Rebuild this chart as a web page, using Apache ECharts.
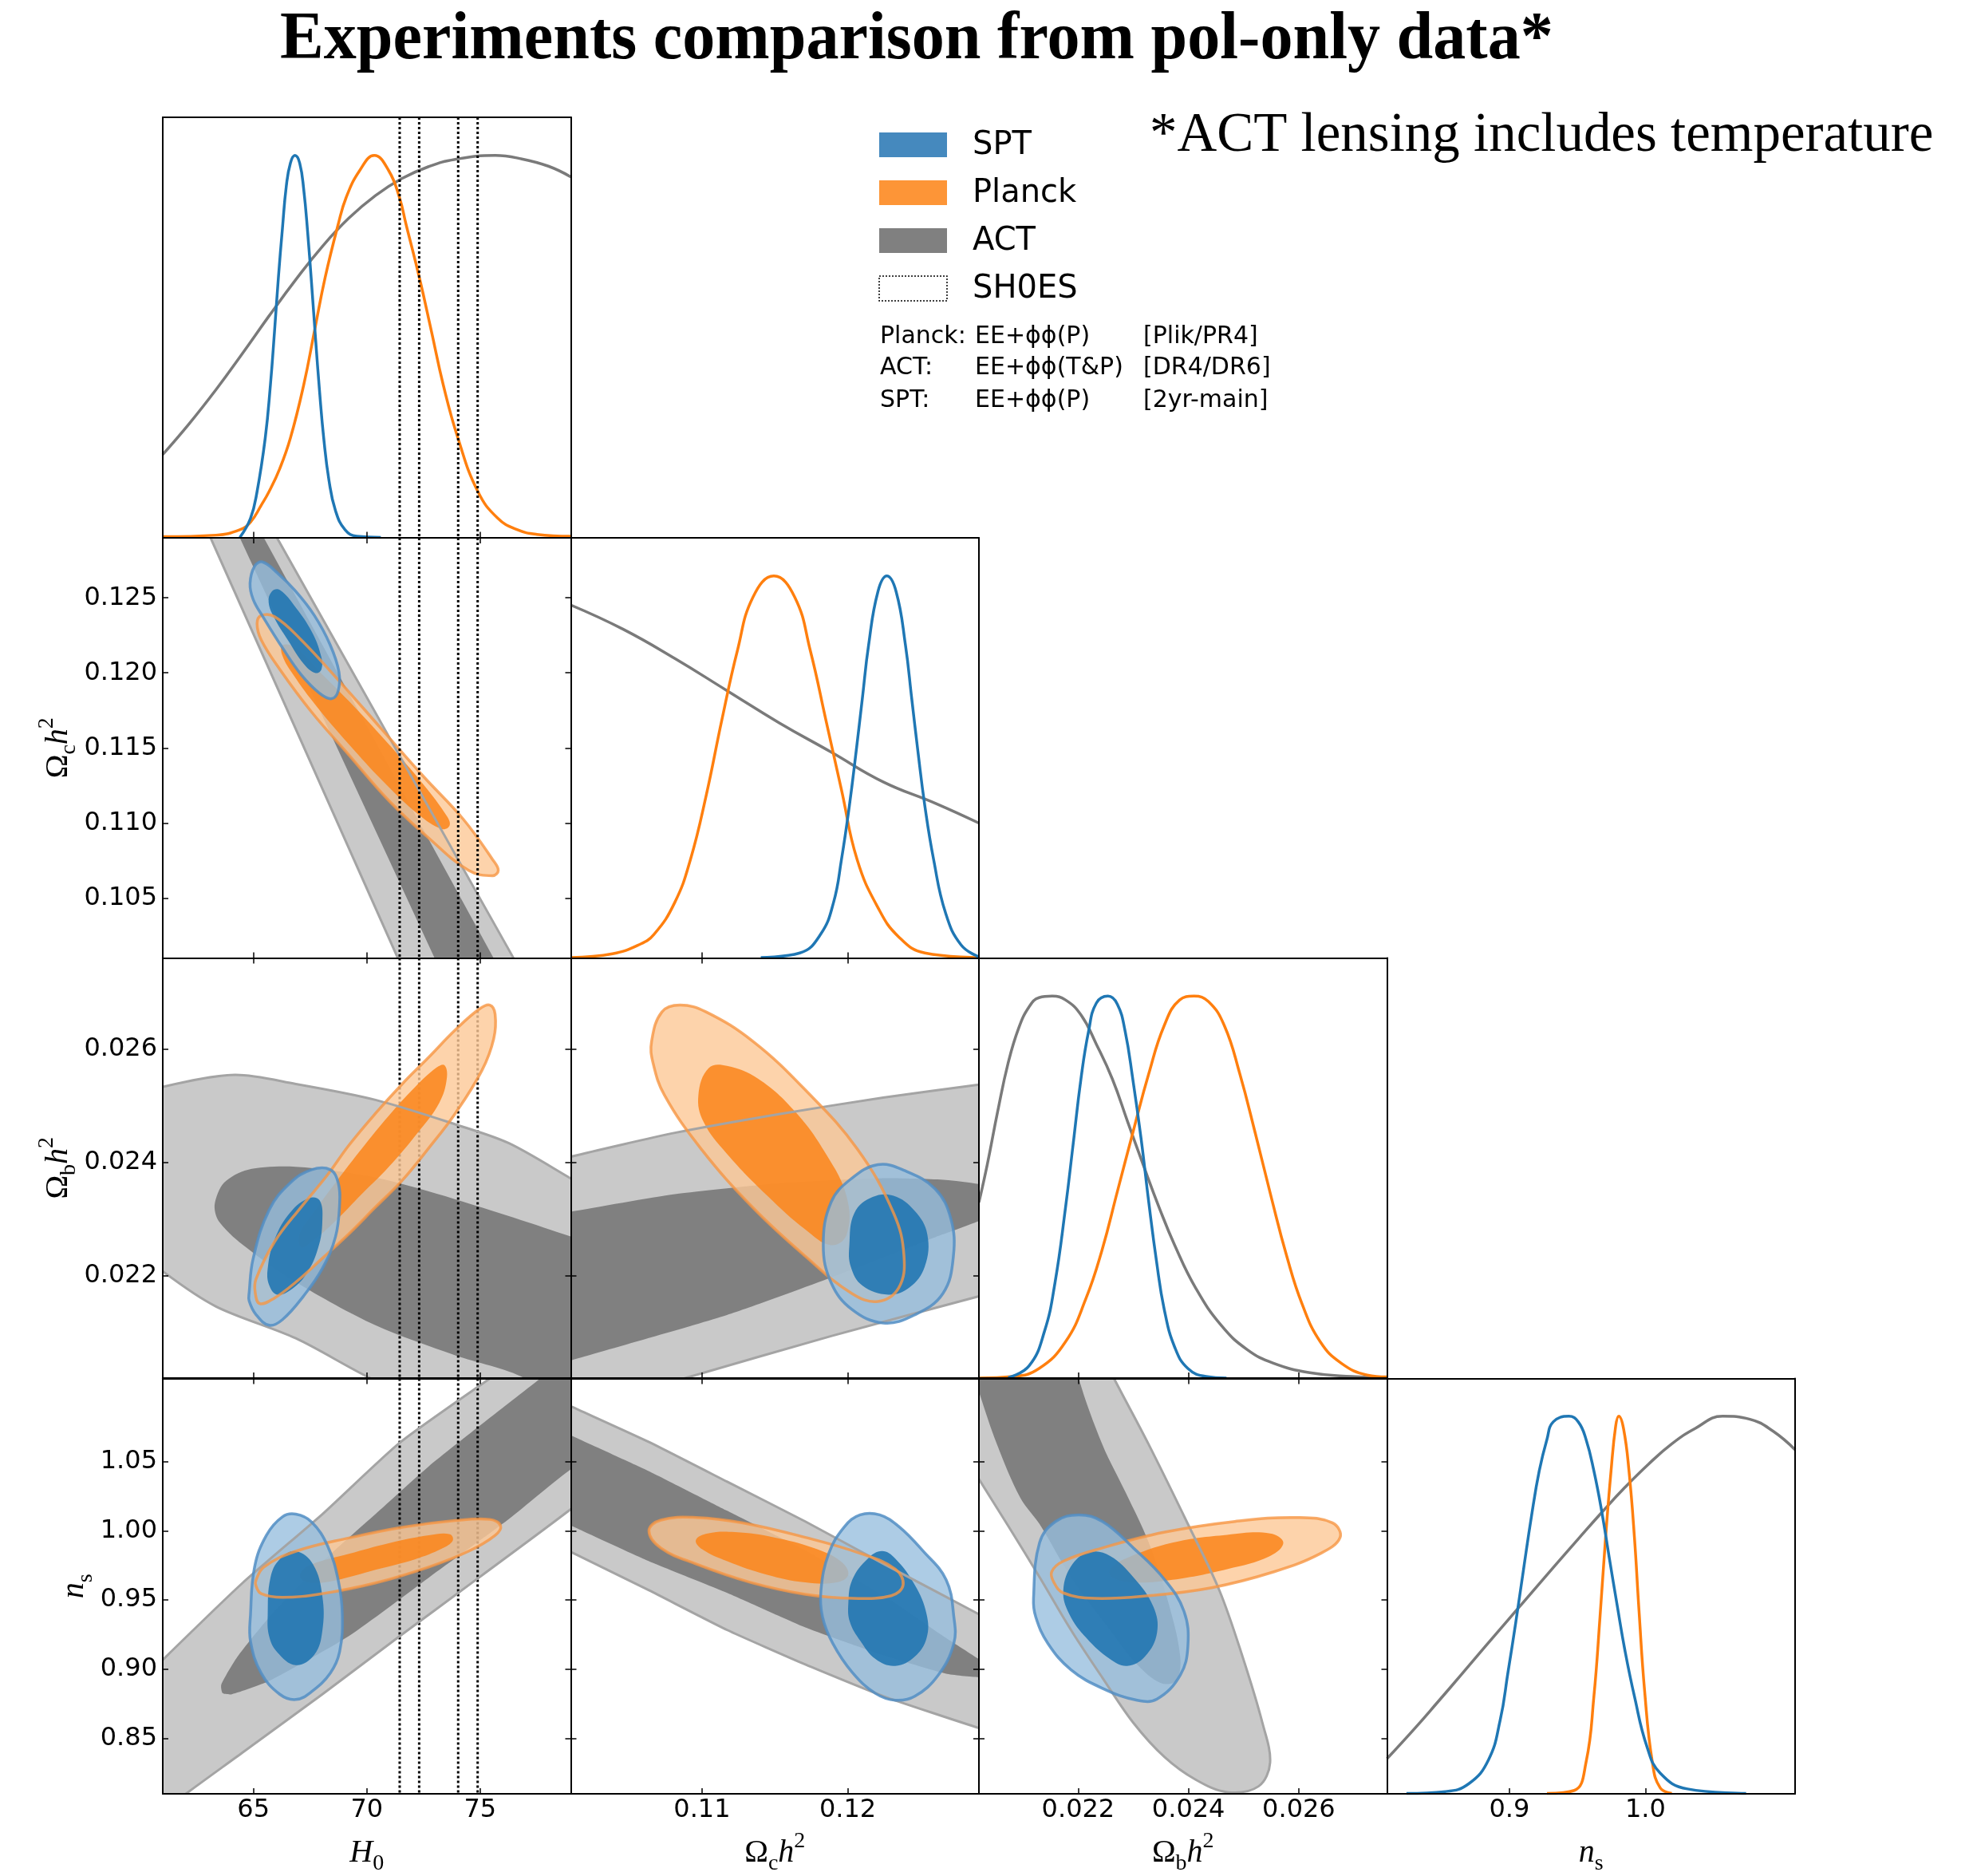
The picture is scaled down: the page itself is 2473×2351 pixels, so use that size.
<!DOCTYPE html>
<html><head><meta charset="utf-8">
<script src="https://cdn.jsdelivr.net/npm/echarts@6/dist/echarts.min.js"></script>
<style>html,body{margin:0;padding:0;background:#fff}#c{width:2473px;height:2351px}</style>
</head><body><div id="c"></div>
<script>
// ---------------- axis ranges & ticks ----------------
const H0_RANGE = [61, 79];
const OMC_RANGE = [0.101, 0.129];
const OMB_RANGE = [0.0202, 0.0276];
const NS_RANGE = [0.81, 1.11];
const DENS_RANGE = [0, 1.1];
const H0_TICKS = [65, 70, 75];
const OMC_XTICKS = [0.11, 0.12];
const OMC_YTICKS = [0.105, 0.110, 0.115, 0.120, 0.125];
const OMB_TICKS = [0.022, 0.024, 0.026];
const NS_XTICKS = [0.9, 1.0];
const NS_YTICKS = [0.85, 0.90, 0.95, 1.00, 1.05];
const SHOES_H0 = [71.45, 72.31, 74.03, 74.89];

// ---------------- 1D marginals [x, normalized density] ----------------
const H0_spt = [[64.40,0],[64.87,0.05],[65.16,0.12],[65.52,0.26],[65.75,0.40],[65.93,0.54],[66.10,0.68],[66.28,0.81],[66.45,0.92],[66.63,0.98],[66.83,1.0],[67.04,0.98],[67.22,0.91],[67.39,0.80],[67.57,0.66],[67.74,0.52],[67.92,0.38],[68.10,0.26],[68.33,0.15],[68.62,0.07],[69.04,0.02],[69.56,0.003],[70.62,0]];
const H0_planck = [[61.0,0.002],[63.35,0.006],[64.40,0.02],[64.87,0.04],[65.34,0.084],[65.69,0.12],[66.16,0.18],[66.63,0.26],[67.22,0.40],[67.69,0.54],[68.16,0.68],[68.74,0.82],[69.09,0.89],[69.68,0.96],[70.33,1.0],[70.97,0.96],[71.44,0.89],[71.73,0.82],[72.32,0.68],[72.85,0.54],[73.37,0.40],[74.02,0.26],[74.90,0.12],[75.78,0.05],[76.60,0.021],[77.50,0.008],[79.0,0.003]];
const H0_act = [[61.0,0.217],[62.17,0.298],[63.35,0.387],[64.52,0.482],[65.69,0.580],[66.87,0.675],[68.04,0.762],[69.21,0.836],[70.38,0.895],[71.56,0.940],[72.73,0.971],[73.90,0.990],[75.66,1.0],[76.84,0.991],[78.01,0.972],[79.0,0.944]];

const omc_planck = [[0.1010,0.001],[0.10386,0.011],[0.10564,0.034],[0.10671,0.062],[0.10814,0.146],[0.10921,0.258],[0.11029,0.426],[0.11136,0.623],[0.11243,0.805],[0.11350,0.945],[0.11493,1.0],[0.11636,0.945],[0.11743,0.805],[0.11850,0.623],[0.11957,0.440],[0.12064,0.258],[0.12207,0.132],[0.12350,0.055],[0.12529,0.013],[0.1290,0.001]];
const omc_spt = [[0.11403,0.001],[0.11671,0.013],[0.11814,0.062],[0.11903,0.146],[0.11957,0.258],[0.12011,0.398],[0.12057,0.539],[0.12100,0.679],[0.12143,0.819],[0.12207,0.959],[0.12268,1.0],[0.12332,0.959],[0.12396,0.819],[0.12439,0.679],[0.12482,0.539],[0.12529,0.398],[0.12589,0.258],[0.12671,0.118],[0.12778,0.034],[0.1290,0.003]];
const omc_act = [[0.1010,0.924],[0.10457,0.861],[0.10814,0.784],[0.11171,0.700],[0.11528,0.616],[0.11886,0.539],[0.12243,0.461],[0.12600,0.405],[0.1290,0.353]];

const omb_act = [[0.0202,0.460],[0.02035,0.558],[0.02054,0.698],[0.02073,0.825],[0.02092,0.916],[0.02111,0.972],[0.02129,0.996],[0.02153,1.0],[0.02177,0.990],[0.02205,0.951],[0.02233,0.874],[0.02262,0.783],[0.02290,0.670],[0.02318,0.558],[0.02347,0.446],[0.02375,0.348],[0.02413,0.236],[0.02460,0.137],[0.02507,0.074],[0.02554,0.039],[0.02620,0.014],[0.02696,0.004],[0.0276,0.001]];
const omb_spt = [[0.02073,0.001],[0.02111,0.032],[0.02139,0.123],[0.02158,0.250],[0.02177,0.446],[0.02191,0.614],[0.02205,0.783],[0.02219,0.909],[0.02233,0.982],[0.02254,1.0],[0.02271,0.979],[0.02285,0.909],[0.02299,0.783],[0.02314,0.628],[0.02328,0.460],[0.02342,0.306],[0.02356,0.180],[0.02375,0.081],[0.02399,0.025],[0.02432,0.004],[0.02469,0]];
const omb_planck = [[0.0202,0],[0.02082,0.004],[0.02129,0.025],[0.02177,0.095],[0.02214,0.208],[0.02243,0.334],[0.02271,0.488],[0.02299,0.642],[0.02328,0.797],[0.02356,0.923],[0.02384,0.990],[0.02410,1.0],[0.02436,0.986],[0.02465,0.923],[0.02493,0.797],[0.02521,0.642],[0.02550,0.474],[0.02578,0.320],[0.02606,0.194],[0.02639,0.095],[0.02677,0.039],[0.02724,0.008],[0.0276,0.003]];

const ns_act = [[0.81,0.093],[0.8301,0.172],[0.8473,0.243],[0.8645,0.315],[0.8817,0.388],[0.8989,0.460],[0.9104,0.508],[0.9334,0.604],[0.9506,0.675],[0.9678,0.745],[0.9850,0.812],[1.0022,0.873],[1.0194,0.927],[1.0367,0.968],[1.0567,1.0],[1.0768,0.992],[1.0940,0.960],[1.1101,0.911]];
const ns_spt = [[0.8243,0.001],[0.8530,0.006],[0.8702,0.027],[0.8846,0.090],[0.8932,0.195],[0.8989,0.321],[0.9047,0.455],[0.9104,0.595],[0.9162,0.735],[0.9219,0.855],[0.9276,0.939],[0.9322,0.985],[0.9437,1.0],[0.9506,0.985],[0.9563,0.939],[0.9621,0.855],[0.9678,0.749],[0.9735,0.623],[0.9793,0.497],[0.9850,0.378],[0.9919,0.258],[1.0011,0.125],[1.0108,0.055],[1.0309,0.013],[1.0740,0.001]];
const ns_planck = [[0.9276,0.001],[0.9477,0.009],[0.9563,0.083],[0.9621,0.258],[0.9666,0.469],[0.9707,0.679],[0.9747,0.855],[0.9781,0.974],[0.9804,1.0],[0.9839,0.967],[0.9879,0.855],[0.9919,0.679],[0.9953,0.483],[0.9994,0.272],[1.0051,0.083],[1.0108,0.016],[1.0194,0.001]];

// ---------------- 2D contours (68% / 95%) [x, y] ----------------
const omc_H0_act95 = [[61.94,0.13275],[63.11,0.1290],[71.36,0.10102],[72.26,0.09737],[77.66,0.09737],[76.46,0.10102],[66.04,0.1290],[64.87,0.13275]];
const omc_H0_act68 = [[63.58,0.13204],[64.40,0.1290],[72.98,0.10102],[73.79,0.09826],[76.60,0.09826],[75.58,0.10102],[65.46,0.1290],[64.52,0.13161]];
const omc_H0_planck95 = [[65.16,0.12328],[65.34,0.12382],[65.93,0.12375],[67.10,0.12221],[68.74,0.11953],[70.62,0.11631],[72.50,0.11310],[74.26,0.11024],[75.55,0.10756],[75.80,0.10684],[75.55,0.10648],[74.49,0.10684],[72.73,0.10899],[70.97,0.11149],[69.21,0.11453],[67.57,0.11738],[66.16,0.12024],[65.34,0.12221]];
const omc_H0_planck68 = [[66.28,0.12185],[66.87,0.12167],[68.04,0.11989],[69.45,0.11774],[70.97,0.11524],[72.50,0.11256],[73.55,0.11041],[73.65,0.10981],[73.32,0.10959],[72.26,0.11059],[70.74,0.11274],[69.21,0.11524],[67.80,0.11774],[66.75,0.11989],[66.28,0.12114]];
const omc_H0_spt95 = [[64.85,0.12596],[65.05,0.12711],[65.40,0.12739],[66.04,0.12668],[66.87,0.12543],[67.69,0.12382],[68.39,0.12185],[68.77,0.12007],[68.74,0.11881],[68.45,0.11828],[67.92,0.11864],[67.10,0.11989],[66.28,0.12167],[65.46,0.12364],[64.99,0.12489]];
const omc_H0_spt68 = [[65.67,0.12471],[65.81,0.12543],[66.16,0.12553],[66.87,0.12435],[67.57,0.12275],[67.98,0.12114],[68.00,0.12024],[67.74,0.11999],[67.22,0.12060],[66.51,0.12221],[65.93,0.12364]];

const omb_H0_act95 = [[58.07,0.02364],[58.65,0.02477],[59.83,0.02515],[61.0,0.02533],[64.17,0.02554],[66.87,0.02538],[70.38,0.02510],[73.90,0.02467],[76.25,0.02434],[79.02,0.02371],[80.94,0.02326],[82.11,0.02231],[82.11,0.01910],[76.25,0.01910],[70.15,0.02020],[66.87,0.02090],[63.35,0.02146],[61.0,0.02208],[59.24,0.02269]];
const omb_H0_act68 = [[63.29,0.02326],[63.70,0.02364],[64.75,0.02387],[66.87,0.02392],[70.38,0.02373],[73.90,0.02335],[79.02,0.02269],[82.11,0.02222],[82.11,0.01910],[77.42,0.01986],[76.95,0.02020],[73.90,0.02060],[70.38,0.02113],[66.87,0.02189],[64.52,0.02255],[63.46,0.02297]];
const omb_H0_planck95 = [[65.11,0.02194],[65.93,0.02260],[67.10,0.02321],[68.27,0.02378],[69.21,0.02430],[70.38,0.02486],[71.56,0.02538],[72.73,0.02585],[73.90,0.02633],[74.96,0.02670],[75.43,0.02677],[75.66,0.02661],[75.60,0.02618],[75.08,0.02562],[73.90,0.02486],[72.73,0.02425],[71.56,0.02368],[70.38,0.02321],[69.21,0.02274],[68.04,0.02231],[66.87,0.02189],[65.93,0.02161],[65.28,0.02151],[65.08,0.02170]];
const omb_H0_planck68 = [[67.04,0.02274],[67.57,0.02307],[68.62,0.02364],[69.80,0.02425],[70.97,0.02482],[72.14,0.02533],[73.08,0.02567],[73.43,0.02571],[73.53,0.02548],[73.20,0.02505],[72.26,0.02453],[70.97,0.02392],[69.80,0.02345],[68.62,0.02297],[67.57,0.02260],[67.10,0.02250]];
const omb_H0_spt95 = [[64.81,0.02170],[64.99,0.02231],[65.69,0.02316],[66.63,0.02364],[67.57,0.02387],[68.39,0.02387],[68.74,0.02364],[68.80,0.02326],[68.62,0.02269],[68.04,0.02213],[67.22,0.02165],[66.28,0.02123],[65.69,0.02113],[65.11,0.02132],[64.81,0.02156]];
const omb_H0_spt68 = [[65.63,0.02213],[65.93,0.02264],[66.63,0.02312],[67.45,0.02337],[67.92,0.02333],[68.04,0.02297],[67.86,0.02250],[67.33,0.02203],[66.63,0.02175],[66.04,0.02167],[65.69,0.02184]];

const ns_H0_act95 = [[58.65,0.8685],[61.0,0.9068],[64.52,0.9623],[68.04,1.0120],[71.46,1.0637],[75.43,1.11],[78.60,1.1460],[82.11,1.1804],[82.11,1.0580],[79.02,1.0159],[74.94,0.9661],[71.46,0.9240],[68.04,0.8819],[64.52,0.8398],[61.0,0.7977],[58.65,0.7671]];
const ns_H0_act68 = [[63.58,0.8888],[64.28,0.9087],[65.69,0.9374],[68.04,0.9776],[70.38,1.0120],[72.73,1.0465],[75.08,1.0771],[77.66,1.11],[80.94,1.1498],[82.11,1.1575],[82.11,1.0733],[79.02,1.0446],[76.25,1.0082],[72.73,0.9661],[69.21,0.9240],[65.69,0.8915],[64.05,0.8819],[63.64,0.8827]];
const ns_H0_planck95 = [[65.11,0.9642],[65.46,0.9738],[66.87,0.9852],[69.21,0.9948],[71.56,1.0025],[73.90,1.0074],[75.43,1.0082],[75.90,1.0036],[75.66,0.9967],[74.49,0.9852],[72.73,0.9738],[70.38,0.9623],[68.04,0.9546],[66.28,0.9519],[65.34,0.9546],[65.11,0.9603]];
const ns_H0_planck68 = [[67.10,0.9699],[67.57,0.9757],[69.21,0.9833],[70.97,0.9910],[72.73,0.9967],[73.67,0.9975],[73.79,0.9929],[73.32,0.9872],[72.14,0.9795],[70.38,0.9718],[68.62,0.9642],[67.57,0.9623],[67.10,0.9653]];
const ns_H0_spt95 = [[64.87,0.9393],[65.05,0.9738],[65.57,0.9967],[66.28,1.0101],[66.87,1.0120],[67.57,1.0063],[68.27,0.9891],[68.74,0.9642],[68.92,0.9393],[68.80,0.9125],[68.39,0.8972],[67.57,0.8838],[66.87,0.8781],[66.16,0.8819],[65.34,0.8972],[64.87,0.9202]];
const ns_H0_spt68 = [[65.63,0.9393],[65.75,0.9661],[66.16,0.9795],[66.87,0.9852],[67.63,0.9757],[68.04,0.9527],[68.04,0.9278],[67.69,0.9106],[66.87,0.9030],[66.04,0.9125],[65.69,0.9240]];

const omb_omc_act95 = [[0.09029,0.02339],[0.1010,0.02410],[0.10814,0.02452],[0.11528,0.02485],[0.12243,0.02514],[0.1290,0.02537],[0.13671,0.02561],[0.13671,0.02216],[0.1290,0.02164],[0.11886,0.02094],[0.10886,0.02020],[0.09029,0.01876]];
const omb_omc_act68 = [[0.09029,0.02264],[0.1010,0.02313],[0.10814,0.02344],[0.11528,0.02363],[0.12243,0.02372],[0.12671,0.02369],[0.12957,0.02358],[0.13064,0.02330],[0.12957,0.02303],[0.12600,0.02268],[0.11886,0.02197],[0.11171,0.02131],[0.1010,0.02051],[0.09029,0.01971]];
const omb_omc_planck95 = [[0.10654,0.02613],[0.10725,0.02665],[0.10850,0.02677],[0.11028,0.02665],[0.11350,0.02613],[0.11707,0.02528],[0.12064,0.02424],[0.12314,0.02311],[0.12386,0.02235],[0.12350,0.02179],[0.12207,0.02155],[0.12028,0.02169],[0.11707,0.02235],[0.11350,0.02320],[0.10993,0.02424],[0.10743,0.02518],[0.10664,0.02575]];
const omb_omc_planck68 = [[0.10975,0.02518],[0.11046,0.02566],[0.11171,0.02570],[0.11386,0.02547],[0.11636,0.02490],[0.11850,0.02415],[0.11993,0.02339],[0.11993,0.02273],[0.11886,0.02254],[0.11707,0.02282],[0.11457,0.02339],[0.11171,0.02415],[0.11011,0.02471]];
const omb_omc_spt95 = [[0.11832,0.02254],[0.11886,0.02330],[0.12028,0.02372],[0.12207,0.02396],[0.12386,0.02386],[0.12600,0.02353],[0.12707,0.02301],[0.12725,0.02235],[0.12653,0.02169],[0.12457,0.02131],[0.12243,0.02117],[0.12028,0.02141],[0.11886,0.02188]];
const omb_omc_spt68 = [[0.12011,0.02254],[0.12046,0.02311],[0.12171,0.02339],[0.12314,0.02341],[0.12457,0.02315],[0.12546,0.02273],[0.12528,0.02216],[0.12421,0.02179],[0.12278,0.02167],[0.12100,0.02183],[0.12021,0.02216]];

const ns_omc_act95 = [[0.09295,1.1291],[0.1010,1.0899],[0.10636,1.0641],[0.11173,1.0354],[0.11709,1.0067],[0.12246,0.9761],[0.1290,0.9397],[0.13587,0.9015],[0.13587,0.8364],[0.1290,0.8575],[0.12246,0.8804],[0.11709,0.9034],[0.11173,0.9283],[0.10636,0.9570],[0.1010,0.9847],[0.09295,1.0258]];
const ns_omc_act68 = [[0.09295,1.1081],[0.1010,1.0689],[0.10636,1.0430],[0.11173,1.0144],[0.11709,0.9857],[0.12246,0.9531],[0.12675,0.9225],[0.12900,0.9072],[0.13023,0.8977],[0.12900,0.8942],[0.12675,0.8967],[0.12246,0.9101],[0.11709,0.9302],[0.11173,0.9551],[0.10636,0.9780],[0.1010,1.0038],[0.09295,1.0430]];
const ns_omc_planck95 = [[0.10636,1.0000],[0.10717,1.0077],[0.10958,1.0096],[0.11280,1.0057],[0.11709,0.9952],[0.12085,0.9837],[0.12326,0.9723],[0.12380,0.9608],[0.12299,0.9531],[0.12031,0.9512],[0.11709,0.9541],[0.11334,0.9627],[0.10958,0.9761],[0.10717,0.9876]];
const ns_omc_planck68 = [[0.10958,0.9933],[0.11039,0.9981],[0.11226,0.9990],[0.11495,0.9952],[0.11763,0.9876],[0.11951,0.9780],[0.12004,0.9684],[0.11924,0.9627],[0.11709,0.9627],[0.11441,0.9684],[0.11173,0.9780],[0.11001,0.9866]];
const ns_omc_spt95 = [[0.11816,0.9570],[0.11870,0.9837],[0.11977,1.0029],[0.12085,1.0115],[0.12219,1.0115],[0.12353,1.0029],[0.12514,0.9857],[0.12675,0.9646],[0.12728,0.9378],[0.12728,0.9187],[0.12621,0.8957],[0.12460,0.8804],[0.12326,0.8776],[0.12192,0.8824],[0.12031,0.8977],[0.11897,0.9187],[0.11827,0.9378]];
const ns_omc_spt68 = [[0.12004,0.9474],[0.12031,0.9646],[0.12138,0.9799],[0.12235,0.9853],[0.12326,0.9799],[0.12460,0.9608],[0.12541,0.9397],[0.12541,0.9225],[0.12460,0.9091],[0.12326,0.9024],[0.12192,0.9072],[0.12085,0.9206],[0.12015,0.9340]];

const ns_omb_act95 = [[0.01876,1.1387],[0.02229,1.1387],[0.02265,1.11],[0.02328,1.0622],[0.02399,1.0048],[0.02456,0.9570],[0.02498,0.9091],[0.02534,0.8613],[0.02548,0.8326],[0.02527,0.8154],[0.02470,0.8112],[0.02413,0.8202],[0.02357,0.8364],[0.02300,0.8613],[0.02244,0.8938],[0.02187,0.9283],[0.02130,0.9665],[0.02074,1.0029],[0.0202,1.0373],[0.01961,1.0756]];
const ns_omb_act68 = [[0.01989,1.1387],[0.02187,1.1387],[0.02201,1.11],[0.02244,1.0622],[0.02286,1.0277],[0.02328,0.9914],[0.02364,0.9474],[0.02385,0.9091],[0.02378,0.8919],[0.02350,0.8900],[0.02307,0.9034],[0.02258,0.9283],[0.02187,0.9665],[0.02130,1.0048],[0.02095,1.0239],[0.02053,1.0622],[0.0202,1.1004]];
const ns_omb_planck95 = [[0.02152,0.9704],[0.02173,0.9780],[0.02244,0.9876],[0.02357,0.9990],[0.02484,1.0067],[0.02597,1.0096],[0.02661,1.0057],[0.02675,0.9952],[0.02640,0.9837],[0.02555,0.9704],[0.02442,0.9589],[0.02328,0.9531],[0.02229,0.9512],[0.02173,0.9551],[0.02156,0.9627]];
const ns_omb_planck68 = [[0.02258,0.9723],[0.02286,0.9799],[0.02371,0.9914],[0.02470,0.9971],[0.02548,0.9981],[0.02572,0.9914],[0.02548,0.9818],[0.02470,0.9723],[0.02371,0.9646],[0.02300,0.9627],[0.02261,0.9665]];
const ns_omb_spt95 = [[0.02119,0.9512],[0.02130,0.9914],[0.02159,1.0067],[0.02201,1.0115],[0.02244,1.0067],[0.02300,0.9876],[0.02357,0.9646],[0.02392,0.9417],[0.02399,0.9168],[0.02385,0.8957],[0.02343,0.8785],[0.02307,0.8776],[0.02244,0.8862],[0.02187,0.8996],[0.02145,0.9187],[0.02123,0.9378]];
const ns_omb_spt68 = [[0.02173,0.9570],[0.02190,0.9761],[0.02222,0.9847],[0.02258,0.9818],[0.02300,0.9665],[0.02336,0.9455],[0.02343,0.9264],[0.02321,0.9091],[0.02289,0.9024],[0.02258,0.9072],[0.02215,0.9225],[0.02184,0.9397]];

// ---------------- text ----------------
const TITLE = 'Experiments comparison from pol-only data*';
const NOTE = '*ACT lensing includes temperature';
const LEGEND_LABELS = ['SPT', 'Planck', 'ACT', 'SH0ES'];
const DATA_ROWS = [['Planck:', 'EE+ϕϕ(P)', '[Plik/PR4]'], ['ACT:', 'EE+ϕϕ(T&P)', '[DR4/DR6]'], ['SPT:', 'EE+ϕϕ(P)', '[2yr-main]']];

// ---------------- styling / layout ----------------
const COL_LEFT = [204, 715.5, 1227, 1738.5];
const ROW_TOP = [147, 674, 1200.5, 1727.5];
const PW = 511.5, PH = 526.5;
const LINE_COL = {spt: '#1f77b4', planck: '#ff7f0e', act: '#7a7a7a'};
const FILL = {
  act95: '#c9c9c9', act68: '#808080',
  planck95: 'rgba(253,200,150,0.80)', planck68: 'rgba(250,134,30,0.88)',
  spt95: 'rgba(150,190,222,0.78)', spt68: 'rgba(31,116,176,0.88)'
};
const EDGE = {act: '#a4a4a4', planck: 'rgba(246,150,68,0.8)', spt: 'rgba(82,142,196,0.85)'};

const RICH = {
  i: {fontFamily: 'Liberation Serif', fontStyle: 'italic', fontSize: 40, color: '#000', lineHeight: 56},
  r: {fontFamily: 'Liberation Serif', fontSize: 40, color: '#000', lineHeight: 56},
  s: {fontFamily: 'Liberation Serif', fontSize: 28, color: '#000', lineHeight: 34, verticalAlign: 'bottom'},
  p: {fontFamily: 'Liberation Serif', fontSize: 28, color: '#000', lineHeight: 34, verticalAlign: 'top'}
};

const PARAM = {
  H0: {range: H0_RANGE, xt: H0_TICKS, yt: H0_TICKS, xd: 0, yd: 0, name: '{i|H}{s|0}', yGap: 103},
  omc: {range: OMC_RANGE, xt: OMC_XTICKS, yt: OMC_YTICKS, xd: 2, yd: 3, name: '{r|Ω}{s|c}{i|h}{p|2}', yGap: 103},
  omb: {range: OMB_RANGE, xt: OMB_TICKS, yt: OMB_TICKS, xd: 3, yd: 3, name: '{r|Ω}{s|b}{i|h}{p|2}', yGap: 103},
  ns: {range: NS_RANGE, xt: NS_XTICKS, yt: NS_YTICKS, xd: 1, yd: 2, name: '{i|n}{s|s}', yGap: 81}
};
const ORDER = ['H0', 'omc', 'omb', 'ns'];

const grids = [], xAxes = [], yAxes = [], series = [];

function axisDef(gi, pos, range, ticks, dec, showLabel, name, showTicks, gap) {
  const vertical = pos === 'left' || pos === 'right';
  const a = {
    gridIndex: gi, type: 'value', position: pos, min: range[0], max: range[1], z: 10, silent: true,
    axisLine: {show: true, onZero: false, lineStyle: {color: '#000', width: 2}},
    axisTick: {show: showTicks, inside: true, length: 7, lineStyle: {color: '#000', width: 1.5}, customValues: ticks},
    axisLabel: {show: showLabel, customValues: ticks, formatter: v => Number(v).toFixed(dec), color: '#000',
      fontSize: 32, fontFamily: 'DejaVu Sans', margin: vertical ? 7 : 5},
    splitLine: {show: false}
  };
  if (name) {
    a.name = name; a.nameLocation = 'middle';
    a.nameGap = vertical ? gap : 46;
    if (vertical) a.nameRotate = 90;
    a.nameTextStyle = {rich: RICH};
  }
  return a;
}

function addPanel(r, c) {
  const gi = grids.length;
  grids.push({left: COL_LEFT[c], top: ROW_TOP[r], width: PW, height: PH, show: false});
  const px = PARAM[ORDER[c]];
  const is1D = r === c;
  const bottomRow = r === 3, leftCol = c === 0 && r > 0;
  const xi = xAxes.length, yi = yAxes.length;
  xAxes.push(axisDef(gi, 'bottom', px.range, px.xt, px.xd, bottomRow, bottomRow ? px.name : '', true));
  xAxes.push(axisDef(gi, 'top', px.range, px.xt, px.xd, false, '', !is1D));
  if (is1D) {
    yAxes.push(axisDef(gi, 'left', DENS_RANGE, [], 0, false, '', false));
    yAxes.push(axisDef(gi, 'right', DENS_RANGE, [], 0, false, '', false));
  } else {
    const py = PARAM[ORDER[r]];
    yAxes.push(axisDef(gi, 'left', py.range, py.yt, py.yd, leftCol, leftCol ? py.name : '', true, py.yGap));
    yAxes.push(axisDef(gi, 'right', py.range, py.yt, py.yd, false, '', true));
  }
  return {xi, yi};
}

function polySeries(ax, pts, fill, stroke, lw, z, smooth) {
  return {
    type: 'custom', coordinateSystem: 'cartesian2d', xAxisIndex: ax.xi, yAxisIndex: ax.yi,
    clip: true, silent: true, z: z, data: [pts[0]],
    renderItem: function (params, api) {
      return {type: 'polygon', shape: {points: pts.map(p => api.coord(p)), smooth: smooth},
        style: {fill: fill || 'none', stroke: stroke || 'none', lineWidth: lw || 0}};
    }
  };
}

function shoesSeries(ax, ymid, z) {
  return {
    type: 'custom', coordinateSystem: 'cartesian2d', xAxisIndex: ax.xi, yAxisIndex: ax.yi,
    clip: true, silent: true, z: z, data: SHOES_H0.map(v => [v, ymid]),
    renderItem: function (params, api) {
      const cs = params.coordSys;
      const x = api.coord([api.value(0), api.value(1)])[0];
      return {type: 'line', shape: {x1: x, y1: cs.y, x2: x, y2: cs.y + cs.height},
        style: {stroke: '#000', lineWidth: 3, lineDash: [3, 3]}};
    }
  };
}

function lineSeries(ax, data, color) {
  return {type: 'line', xAxisIndex: ax.xi, yAxisIndex: ax.yi, data: data, showSymbol: false,
    smooth: 0.45, silent: true, z: 3, clip: true,
    lineStyle: {color: color, width: 3.5}};
}

function add1D(r, sets, shoes) {
  const ax = addPanel(r, r);
  if (shoes) series.push(shoesSeries(ax, 0.5, 4));
  series.push(lineSeries(ax, sets.act, LINE_COL.act));
  series.push(lineSeries(ax, sets.planck, LINE_COL.planck));
  series.push(lineSeries(ax, sets.spt, LINE_COL.spt));
}

function add2D(r, c, s, shoesMode, actSmooth, ymid) {
  const ax = addPanel(r, c);
  series.push(polySeries(ax, s.act95, FILL.act95, null, 0, 2, actSmooth));
  series.push(polySeries(ax, s.act68, FILL.act68, null, 0, 2, actSmooth));
  if (shoesMode === 'under') series.push(shoesSeries(ax, ymid, 2));
  series.push(polySeries(ax, s.planck95, FILL.planck95, null, 0, 2, 0.4));
  series.push(polySeries(ax, s.planck68, FILL.planck68, null, 0, 2, 0.4));
  series.push(polySeries(ax, s.spt95, FILL.spt95, null, 0, 2, 0.4));
  series.push(polySeries(ax, s.spt68, FILL.spt68, null, 0, 2, 0.4));
  series.push(polySeries(ax, s.act95, null, EDGE.act, 3, 3, actSmooth));
  series.push(polySeries(ax, s.planck95, null, EDGE.planck, 3.5, 3, 0.4));
  series.push(polySeries(ax, s.spt95, null, EDGE.spt, 3.5, 3, 0.4));
  if (shoesMode === 'over') series.push(shoesSeries(ax, ymid, 4));
}

add1D(0, {act: H0_act, planck: H0_planck, spt: H0_spt}, true);
add2D(1, 0, {act95: omc_H0_act95, act68: omc_H0_act68, planck95: omc_H0_planck95, planck68: omc_H0_planck68, spt95: omc_H0_spt95, spt68: omc_H0_spt68}, 'over', 0, 0.115);
add1D(1, {act: omc_act, planck: omc_planck, spt: omc_spt}, false);
add2D(2, 0, {act95: omb_H0_act95, act68: omb_H0_act68, planck95: omb_H0_planck95, planck68: omb_H0_planck68, spt95: omb_H0_spt95, spt68: omb_H0_spt68}, 'under', 0.3, 0.024);
add2D(2, 1, {act95: omb_omc_act95, act68: omb_omc_act68, planck95: omb_omc_planck95, planck68: omb_omc_planck68, spt95: omb_omc_spt95, spt68: omb_omc_spt68}, 'none', 0.2, 0);
add1D(2, {act: omb_act, planck: omb_planck, spt: omb_spt}, false);
add2D(3, 0, {act95: ns_H0_act95, act68: ns_H0_act68, planck95: ns_H0_planck95, planck68: ns_H0_planck68, spt95: ns_H0_spt95, spt68: ns_H0_spt68}, 'under', 0.2, 0.96);
add2D(3, 1, {act95: ns_omc_act95, act68: ns_omc_act68, planck95: ns_omc_planck95, planck68: ns_omc_planck68, spt95: ns_omc_spt95, spt68: ns_omc_spt68}, 'none', 0.15, 0);
add2D(3, 2, {act95: ns_omb_act95, act68: ns_omb_act68, planck95: ns_omb_planck95, planck68: ns_omb_planck68, spt95: ns_omb_spt95, spt68: ns_omb_spt68}, 'none', 0.35, 0);
add1D(3, {act: ns_act, planck: ns_planck, spt: ns_spt}, false);

// ---------------- graphic: title, note, legend ----------------
const graphic = [];
function txt(x, y, text, size, family, weight, sx) {
  return {type: 'text', x: x, y: y, scaleX: sx || 1, silent: true, z: 20,
    style: {text: text, fontSize: size, fontFamily: family, fontWeight: weight || 'normal', fill: '#000',
      align: 'left', verticalAlign: 'middle', textAlign: 'left', textVerticalAlign: 'middle'}};
}
graphic.push(txt(351, 51, TITLE, 84, 'Liberation Serif', 'bold', 0.978));
graphic.push(txt(1441, 171, NOTE, 70, 'Liberation Serif', 'normal', 0.985));
const LEG_Y = [181, 241, 301, 361];
const LEG_FILL = ['#4589be', '#fd9537', '#808080', null];
LEGEND_LABELS.forEach((lab, k) => {
  const f = LEG_FILL[k];
  graphic.push({type: 'rect', silent: true, z: 20, shape: {x: 1102, y: LEG_Y[k] - 15, width: 85, height: 31},
    style: f ? {fill: f} : {fill: '#fff', stroke: '#000', lineWidth: 1.5, lineDash: [2, 2]}});
  graphic.push(txt(1219, LEG_Y[k] + 2, lab, 40, 'DejaVu Sans'));
});
const ROW_Y = [422, 461, 502];
const ROW_X = [1103, 1222, 1433];
DATA_ROWS.forEach((row, k) => row.forEach((t, j) => graphic.push(txt(ROW_X[j], ROW_Y[k], t, 30, 'DejaVu Sans'))));

const chart = echarts.init(document.getElementById('c'), null, {renderer: 'canvas', width: 2473, height: 2351});
chart.setOption({
  animation: false, backgroundColor: '#fff',
  grid: grids, xAxis: xAxes, yAxis: yAxes, series: series, graphic: graphic
});
</script></body></html>
